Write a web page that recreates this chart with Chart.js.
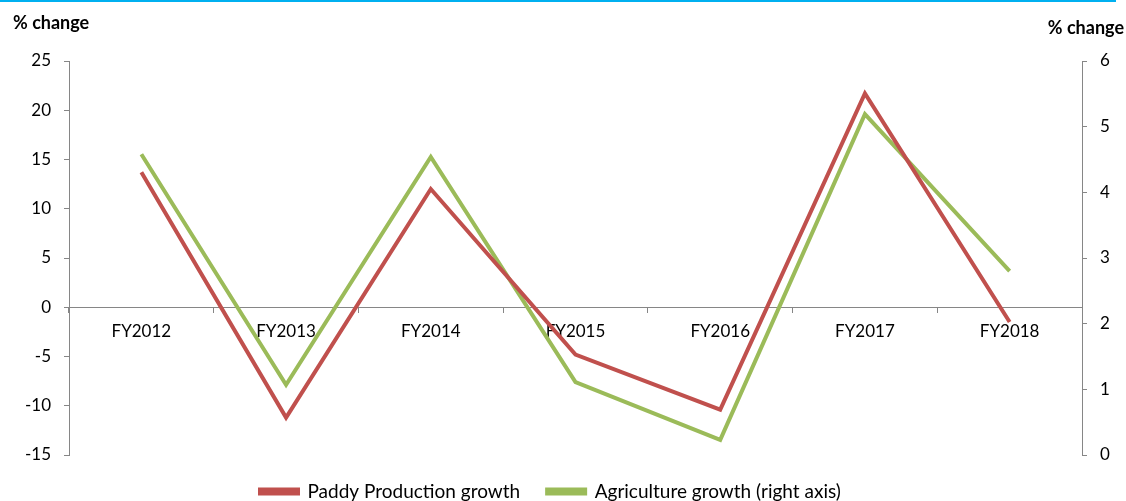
<!DOCTYPE html>
<html>
<head>
<meta charset="utf-8">
<script src="https://cdn.jsdelivr.net/npm/chart.js@4/dist/chart.umd.min.js"></script>
<style>
  html, body { margin: 0; padding: 0; background: #fff; overflow: hidden; }
  .topline { position: absolute; left: 0; top: 0; width: 1116px; height: 2px; background: #00b0f0; }
  .wrap { position: relative; width: 1126px; height: 511px; }
</style>
</head>
<body>
<div class="wrap">
  <canvas id="growthChart"></canvas>
</div>
<div class="topline"></div>
<script>
// fiscal years and growth rates (% change)
const years = ['FY2012', 'FY2013', 'FY2014', 'FY2015', 'FY2016', 'FY2017', 'FY2018'];
const paddyGrowth = [13.7, -11.2, 12.0, -4.8, -10.4, 21.7, -1.5];
const agriGrowth = [4.58, 1.07, 4.54, 1.11, 0.23, 5.19, 2.80];
const axisTitle = '% change';

const FONT = 'Lato, "Open Sans", sans-serif';
const AXIS_GREY = '#868686';

// "% change" captions over both value axes
const axisCaptions = {
  id: 'axisCaptions',
  afterDraw(chart) {
    const c = chart.ctx;
    c.save();
    c.fillStyle = '#000';
    c.font = 'bold 18px ' + FONT;
    c.textBaseline = 'alphabetic';
    c.textAlign = 'left';
    c.fillText(axisTitle, 13, 29);
    c.textAlign = 'right';
    c.fillText(axisTitle, 1124, 34);
    c.restore();
  }
};

// legend sits left of centre under the plot
const legendShift = {
  id: 'legendShift',
  afterLayout(chart) {
    chart.legend.left = 260 - chart.legend.options.labels.padding;
  }
};

new Chart(document.getElementById('growthChart'), {
  type: 'line',
  data: {
    labels: years,
    datasets: [{
      label: 'Paddy Production growth',
      data: paddyGrowth,
      borderColor: '#c0504d',
      backgroundColor: '#c0504d',
      borderWidth: 4,
      pointRadius: 0,
      tension: 0,
      yAxisID: 'y'
    }, {
      label: 'Agriculture growth (right axis)',
      data: agriGrowth,
      borderColor: '#9bbb59',
      backgroundColor: '#9bbb59',
      borderWidth: 4,
      pointRadius: 0,
      tension: 0,
      yAxisID: 'y1'
    }]
  },
  options: {
    responsive: true,
    maintainAspectRatio: false,
    animation: false,
    layout: { padding: { top: 61, left: 0, right: 0, bottom: 0 } },
    plugins: {
      legend: {
        position: 'bottom',
        align: 'start',
        labels: {
          boxWidth: 38,
          boxHeight: 4,
          padding: 27,
          color: '#000',
          font: { family: FONT, size: 19 }
        }
      },
      tooltip: { enabled: false }
    },
    scales: {
      x: {
        position: { y: 0 },
        offset: true,
        grid: { offset: true, drawOnChartArea: false, tickLength: 5, color: AXIS_GREY },
        border: { color: AXIS_GREY },
        ticks: { color: '#000', padding: 9, maxRotation: 0, font: { family: FONT, size: 17 } }
      },
      y: {
        position: 'left',
        min: -15,
        max: 25,
        ticks: { stepSize: 5, color: '#000', padding: 13, font: { family: FONT, size: 17 } },
        grid: { drawOnChartArea: false, tickLength: 5, color: AXIS_GREY },
        border: { color: AXIS_GREY },
        afterFit(scale) { scale.width = 69; }
      },
      y1: {
        position: 'right',
        min: 0,
        max: 6,
        ticks: { stepSize: 1, color: '#000', padding: 13, font: { family: FONT, size: 17 } },
        grid: { drawOnChartArea: false, tickLength: 5, color: AXIS_GREY },
        border: { color: AXIS_GREY },
        afterFit(scale) { scale.width = 44; }
      }
    }
  },
  plugins: [axisCaptions, legendShift]
});
</script>
</body>
</html>
